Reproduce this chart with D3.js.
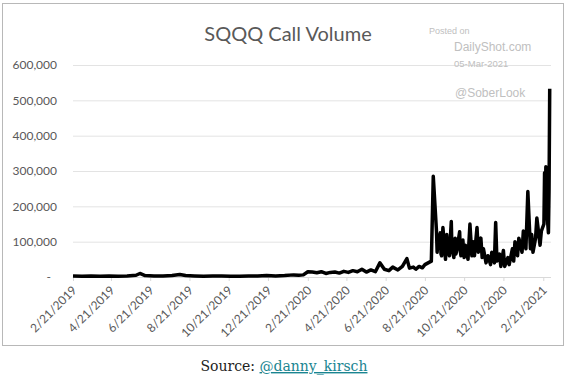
<!DOCTYPE html>
<html>
<head>
<meta charset="utf-8">
<script src="https://cdn.jsdelivr.net/npm/d3@7"></script>
<style>
  body { margin: 0; background: #fff; }
  svg { display: block; }
</style>
</head>
<body>
<div id="chart"></div>
<script>
const chartWidth = 568
const chartHeight = 376

// daily SQQQ call volume
const dates = [
    '2019-02-21', '2019-03-07', '2019-03-21', '2019-04-04', '2019-04-18', '2019-05-02', '2019-05-16',
    '2019-05-30', '2019-06-05', '2019-06-13', '2019-06-27', '2019-07-11', '2019-07-25', '2019-08-06',
    '2019-08-15', '2019-08-29', '2019-09-12', '2019-09-26', '2019-10-10', '2019-10-24', '2019-11-07',
    '2019-11-21', '2019-12-05', '2019-12-19', '2020-01-02', '2020-01-16', '2020-01-30', '2020-02-07',
    '2020-02-14', '2020-02-21', '2020-02-28', '2020-03-06', '2020-03-13', '2020-03-20', '2020-03-27',
    '2020-04-03', '2020-04-10', '2020-04-17', '2020-04-24', '2020-05-01', '2020-05-08', '2020-05-15',
    '2020-05-22', '2020-05-29', '2020-06-05', '2020-06-12', '2020-06-19', '2020-06-26', '2020-07-02',
    '2020-07-10', '2020-07-17', '2020-07-24', '2020-07-28', '2020-08-03', '2020-08-07', '2020-08-12',
    '2020-08-17', '2020-08-21', '2020-08-26', '2020-08-31', '2020-09-03', '2020-09-08', '2020-09-09',
    '2020-09-10', '2020-09-14', '2020-09-15', '2020-09-16', '2020-09-18', '2020-09-21', '2020-09-22',
    '2020-09-24', '2020-09-25', '2020-09-28', '2020-10-01', '2020-10-02', '2020-10-05', '2020-10-07',
    '2020-10-08', '2020-10-09', '2020-10-14', '2020-10-15', '2020-10-16', '2020-10-19', '2020-10-21',
    '2020-10-23', '2020-10-27', '2020-10-30', '2020-11-02', '2020-11-04', '2020-11-06', '2020-11-10',
    '2020-11-12', '2020-11-16', '2020-11-18', '2020-11-20', '2020-11-24', '2020-11-27', '2020-12-01',
    '2020-12-03', '2020-12-07', '2020-12-09', '2020-12-11', '2020-12-15', '2020-12-17', '2020-12-21',
    '2020-12-23', '2020-12-28', '2020-12-30', '2021-01-04', '2021-01-06', '2021-01-08', '2021-01-12',
    '2021-01-14', '2021-01-19', '2021-01-21', '2021-01-25', '2021-01-28', '2021-02-01', '2021-02-03',
    '2021-02-05', '2021-02-09', '2021-02-11', '2021-02-16', '2021-02-18', '2021-02-22', '2021-02-23',
    '2021-02-24', '2021-02-25', '2021-02-26', '2021-03-01', '2021-03-02', '2021-03-03'
]
const volume = [
    3000, 2000, 3000, 2000, 3000, 2000, 3000,
    5000, 10000, 4000, 3000, 3000, 4000, 7000,
    4000, 3000, 2000, 3000, 3000, 2000, 2000,
    3000, 3000, 4000, 3000, 4000, 6000, 5000,
    6000, 15000, 14000, 12000, 15000, 10000, 13000,
    14000, 11000, 16000, 13000, 18000, 15000, 22000,
    14000, 20000, 15000, 40000, 22000, 18000, 28000,
    20000, 30000, 52000, 25000, 28000, 22000, 30000,
    26000, 35000, 40000, 45000, 285000, 130000, 70000,
    95000, 125000, 65000, 60000, 140000, 75000, 50000,
    120000, 85000, 60000, 157000, 80000, 55000, 110000,
    65000, 70000, 128000, 75000, 60000, 105000, 55000,
    90000, 50000, 150000, 60000, 100000, 60000, 140000,
    70000, 110000, 55000, 80000, 40000, 60000, 35000,
    70000, 40000, 154000, 45000, 65000, 30000, 75000,
    30000, 55000, 35000, 80000, 45000, 100000, 60000,
    110000, 70000, 130000, 80000, 242000, 80000, 120000,
    70000, 110000, 167000, 90000, 130000, 150000, 295000,
    170000, 312000, 200000, 125000, 250000, 533000
]

const yTicks = [0, 100000, 200000, 300000, 400000, 500000, 600000]
const xTickLabels = [
    '2/21/2019', '4/21/2019', '6/21/2019', '8/21/2019', '10/21/2019', '12/21/2019',
    '2/21/2020', '4/21/2020', '6/21/2020', '8/21/2020', '10/21/2020', '12/21/2020', '2/21/2021'
]

const parseDay = d3.utcParse('%Y-%m-%d')
const parseTick = d3.utcParse('%m/%d/%Y')
const data = dates.map((d, i) => ({ date: parseDay(d), value: volume[i] }))

const plot = { left: 73, right: 551, top: 65, bottom: 277 }

const svg = d3.select('#chart')
    .append('svg')
    .attr('width', chartWidth)
    .attr('height', chartHeight)

svg.append('rect')
    .attr('x', 2.5)
    .attr('y', 3.5)
    .attr('width', 561)
    .attr('height', 342)
    .attr('fill', '#fff')
    .attr('stroke', '#b8b8b8')

const xScale = d3.scaleUtc()
    .domain([parseDay('2019-02-21'), parseDay('2021-03-05')])
    .range([plot.left, plot.right])

const yScale = d3.scaleLinear()
    .domain([0, 600000])
    .range([plot.bottom, plot.top])

// gridlines
svg.append('g')
    .selectAll('line')
    .data(yTicks.slice(1))
    .enter()
    .append('line')
    .attr('x1', plot.left)
    .attr('x2', plot.right)
    .attr('y1', d => yScale(d) + 0.5)
    .attr('y2', d => yScale(d) + 0.5)
    .attr('stroke', '#e3e3e3')
    .attr('stroke-width', 1)

const yAxis = d3.axisLeft(yScale)
    .tickValues(yTicks)
    .tickSize(0)
    .tickPadding(0)
    .tickFormat(d => d === 0 ? '-' : d3.format(',')(d))
const yG = svg.append('g')
    .attr('transform', 'translate(57, 0)')
    .call(yAxis)
yG.select('.domain').remove()
yG.selectAll('text')
    .attr('fill', '#595959')
    .style('font-family', 'Lato, sans-serif')
    .style('font-size', '12px')
    .attr('dx', d => d === 0 ? -6 : 0)

const xAxis = d3.axisBottom(xScale)
    .tickValues(xTickLabels.map(parseTick))
    .tickSize(4)
    .tickFormat(d3.utcFormat('%-m/%-d/%Y'))
const xG = svg.append('g')
    .attr('transform', `translate(0, ${plot.bottom})`)
    .call(xAxis)
xG.select('.domain')
    .attr('d', `M${plot.left},0.5H${plot.right}`)
    .attr('stroke', '#d9d9d9')
xG.selectAll('.tick line').attr('stroke', '#d9d9d9')
xG.selectAll('text')
    .attr('fill', '#595959')
    .style('font-family', 'Lato, sans-serif')
    .style('font-size', '12px')
    .attr('text-anchor', 'end')
    .attr('y', 0)
    .attr('dy', 0)
    .attr('transform', 'translate(4, 14) rotate(-45)')

const line = d3.line()
    .x(d => xScale(d.date))
    .y(d => yScale(d.value))

svg.append('path')
    .datum(data)
    .attr('fill', 'none')
    .attr('stroke', '#000')
    .attr('stroke-width', 3.5)
    .attr('stroke-linejoin', 'round')
    .attr('d', line)

svg.append('text')
    .attr('x', 288)
    .attr('y', 41)
    .attr('text-anchor', 'middle')
    .attr('fill', '#595959')
    .style('font-family', 'Lato, sans-serif')
    .style('font-size', '20px')
    .text('SQQQ Call Volume')

// watermark
const marks = [
    { t: 'Posted on', x: 429, y: 34, s: 9 },
    { t: 'DailyShot.com', x: 454, y: 51, s: 12 },
    { t: '05-Mar-2021', x: 454, y: 67, s: 9.5 },
    { t: '@SoberLook', x: 455, y: 97, s: 12 }
]
svg.append('g')
    .selectAll('text')
    .data(marks)
    .enter()
    .append('text')
    .attr('x', d => d.x)
    .attr('y', d => d.y)
    .attr('fill', '#c0c0c0')
    .style('font-family', '"Liberation Sans", Arial, sans-serif')
    .style('font-size', d => d.s + 'px')
    .text(d => d.t)

const source = svg.append('text')
    .attr('x', 284)
    .attr('y', 371)
    .attr('text-anchor', 'middle')
    .style('font-family', '"DejaVu Serif", serif')
    .style('font-size', '14px')
source.append('tspan').attr('fill', '#222').text('Source: ')
source.append('tspan')
    .attr('fill', '#1a8591')
    .attr('text-decoration', 'underline')
    .text('@danny_kirsch')
</script>
</body>
</html>
